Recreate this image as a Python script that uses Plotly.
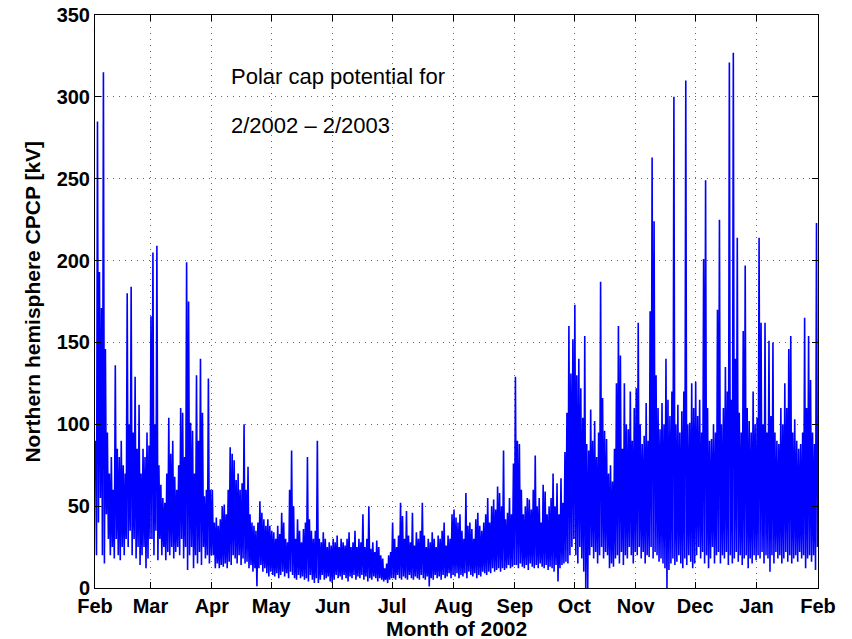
import numpy as np
import pandas as pd
import plotly.graph_objects as go

# Month starts (year, month) and CPCP values [kV], two readings per day (peak, trough)
month_starts = [(2002, 2), (2002, 3), (2002, 4), (2002, 5), (2002, 6), (2002, 7),
                (2002, 8), (2002, 9), (2002, 10), (2002, 11), (2002, 12), (2003, 1)]

feb = [90,20, 285,40, 193,55, 171,20, 315,15, 146,45, 95,30, 70,20, 80,25, 60,18,
       136,30, 85,20, 80,17, 90,25, 75,20, 70,30, 180,25, 100,35, 184,20, 95,30,
       129,18, 85,25, 112,14, 70,20, 85,25, 80,12, 95,18, 87,30]
mar = [166,30, 205,20, 100,35, 209,17, 75,30, 63,20, 55,25, 52,17, 70,22, 104,20,
       82,25, 90,18, 68,22, 60,25, 75,20, 110,30, 107,18, 80,25, 199,11, 175,20,
       101,25, 96,12, 70,20, 130,15, 90,22, 140,14, 107,25, 56,18, 60,20, 128,15, 60,20]
apr = [60,20, 40,12, 43,15, 38,12, 42,14, 50,13, 51,15, 45,12, 60,16, 86,14,
       82,20, 78,18, 66,15, 70,20, 60,14, 64,18, 100,15, 60,16, 74,12, 45,14,
       40,10, 38,12, 35,1, 40,12, 53,14, 46,10, 42,12, 38,9, 42,7, 38,10]
may = [35,8, 34,7, 30,9, 38,6, 33,8, 46,10, 40,7, 30,9, 28,6, 60,10,
       84,8, 50,6, 30,5, 42,8, 35,6, 28,7, 36,5, 40,6, 80,4, 42,8,
       35,5, 30,3, 35,6, 90,3, 30,5, 28,8, 34,5, 30,6, 25,7, 28,4, 26,3]
jun = [30,5, 28,8, 32,6, 25,7, 30,5, 28,8, 26,6, 30,4, 34,7, 25,6,
       28,8, 35,5, 25,7, 30,6, 28,8, 45,5, 25,7, 30,4, 50,6, 24,5,
       28,7, 22,6, 29,4, 25,6, 20,5, 18,4, 12,5, 15,3, 20,5, 22,6]
jul = [40,6, 30,5, 25,8, 32,6, 52,5, 44,7, 30,6, 47,5, 32,8, 28,6,
       46,5, 26,7, 34,6, 30,5, 35,8, 52,6, 32,5, 25,7, 30,1, 28,6,
       34,5, 30,8, 25,6, 32,7, 30,5, 35,8, 40,6, 26,7, 32,9, 30,6, 45,8]
aug = [48,7, 43,9, 40,6, 45,8, 35,7, 30,9, 58,6, 38,10, 40,8, 36,7,
       30,9, 42,6, 46,8, 38,7, 35,10, 40,9, 45,8, 55,10, 40,9, 50,12,
       54,10, 48,11, 62,12, 58,10, 50,12, 84,11, 42,12, 46,14, 55,12, 45,13, 76,14]
sep = [129,14, 90,12, 88,15, 60,13, 45,12, 50,14, 55,11, 54,15, 48,13, 60,12,
       81,14, 50,12, 55,15, 40,13, 63,12, 59,14, 45,11, 50,13, 55,12, 70,10,
       50,14, 64,4, 45,12, 67,14, 52,15, 83,16, 107,15, 160,20, 131,25, 152,30]
oct_ = [173,20, 130,15, 140,25, 122,18, 104,10, 154,0, 88,0, 84,20, 109,25, 90,18,
        102,22, 80,15, 95,20, 187,25, 116,18, 96,22, 91,20, 70,12, 75,15, 65,13,
        85,18, 125,20, 160,15, 142,22, 85,14, 125,20, 100,18, 97,25, 120,20, 90,15, 110,22]
nov = [122,20, 162,25, 100,18, 88,22, 93,15, 113,20, 90,19, 169,25, 263,18, 224,22,
       130,20, 110,16, 97,18, 113,15, 100,12, 140,0, 115,11, 105,15, 120,18, 300,14,
       100,16, 112,20, 95,15, 108,12, 120,18, 310,14, 100,20, 101,16, 125,12, 110,15]
dec = [126,20, 105,25, 115,18, 95,22, 201,15, 249,20, 110,12, 90,18, 91,25, 100,15,
       95,20, 170,22, 225,15, 100,20, 110,18, 135,22, 120,14, 321,20, 115,15, 327,18,
       140,22, 214,16, 107,20, 95,14, 157,18, 197,20, 110,12, 102,18, 95,15, 120,20, 100,17]
jan = [104,20, 214,18, 162,22, 100,15, 162,20, 95,18, 151,10, 105,20, 150,15, 95,22,
       90,18, 88,20, 110,15, 100,18, 125,22, 110,16, 146,20, 154,15, 95,18, 103,20,
       90,16, 85,22, 88,18, 95,20, 165,12, 110,18, 154,20, 127,16, 95,20, 88,11, 223,25]

months = [feb, mar, apr, may, jun, jul, aug, sep, oct_, nov, dec, jan]

xs, ys = [], []
for (yr, mo), vals in zip(month_starts, months):
    start = pd.Timestamp(yr, mo, 1)
    for i, v in enumerate(vals):
        xs.append(start + pd.Timedelta(hours=12 * i + 6))
        ys.append(v)

fig = go.Figure()
fig.add_trace(go.Scatter(x=xs, y=ys, mode="lines",
                         line=dict(color="#0000ff", width=1.6), showlegend=False))

FONT = "Liberation Sans"
tick_font = dict(family=FONT, size=20, color="black", weight="bold")
axis_common = dict(showline=True, linecolor="black", linewidth=1, mirror="ticks",
                   ticks="inside", ticklen=6, tickcolor="black",
                   showgrid=True, gridcolor="rgba(0,0,0,0.6)", gridwidth=1,
                   griddash="1px,5px", zeroline=False, tickfont=tick_font,
                   automargin=False, ticklabeloverflow="allow")

fig.update_xaxes(type="date", range=["2002-02-01", "2003-02-01"],
                 dtick="M1", tick0="2002-02-01", tickformat="%b", **axis_common)
fig.update_yaxes(range=[0, 350], dtick=50, **axis_common)

title_font = dict(family=FONT, size=21, color="black", weight="bold")
fig.add_annotation(xref="paper", yref="paper", x=0.5, y=-0.07, xanchor="center", yanchor="middle",
                   text="Month of 2002", showarrow=False, font=title_font)
fig.add_annotation(xref="paper", yref="paper", x=-0.087, y=0.5, xanchor="center", yanchor="middle",
                   text="Northern hemisphere CPCP [kV]", textangle=-90, showarrow=False,
                   font=title_font)

note_font = dict(family=FONT, size=22, color="black")
fig.add_annotation(xref="paper", yref="paper", x=0.185, y=0.892, xanchor="left", yanchor="middle",
                   text="Polar cap potential for", showarrow=False, font=note_font)
fig.add_annotation(xref="paper", yref="paper", x=0.185, y=0.808, xanchor="left", yanchor="middle",
                   text="2/2002 \u2013 2/2003", showarrow=False, font=note_font)

# page has an 8px body margin, so the figure is sized to end at the window edge
fig.update_layout(width=844, height=631, margin=dict(l=87, r=34, t=7, b=51),
                  plot_bgcolor="white", paper_bgcolor="white")

fig.write_html("out.html")
